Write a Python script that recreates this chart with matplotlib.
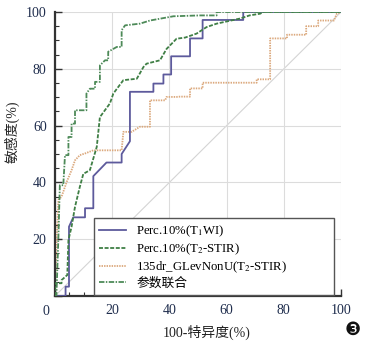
import matplotlib
matplotlib.use("Agg")
from matplotlib import pyplot as plt
from matplotlib.ticker import MultipleLocator

# ROC curves (x = 100-specificity, y = sensitivity), in %
t1_x = [0, 3.7, 3.7, 4.9, 4.9, 6.4, 10.5, 10.5, 13.4, 13.4, 18, 23.3, 23.3, 26.2, 26.2,
        34.4, 34.4, 37.9, 37.9, 40.6, 40.6, 47.2, 47.2, 51.6, 51.6, 65.8, 65.8, 100]
t1_y = [0, 0, 3.3, 3.3, 24.4, 27.7, 27.7, 30.9, 30.9, 42.2, 47, 47, 50, 54.5, 71.9,
        71.9, 74.8, 74.8, 78, 78, 84.4, 84.4, 90.7, 90.7, 97.2, 97.2, 100, 100]

t2_x = [0, 0, 2.3, 2.3, 4.3, 4.7, 5.8, 7, 8.7, 9.9, 12.2, 14.6, 15.7, 19.2, 20.4, 23.9,
        28.6, 30.9, 32, 36.7, 39, 42.5, 45.5, 49.5, 53, 56.5, 64.7, 68, 71.7, 72.8, 100]
t2_y = [0, 4.5, 4.5, 5.6, 7.4, 19.7, 24.4, 31.4, 38.5, 43, 44.3, 52.5, 63, 67.8, 71.3,
        76, 76.5, 80.6, 81.8, 83, 87, 90.6, 91, 92.4, 94.7, 95.9, 97.7, 98.8, 99.4, 100, 100]

glev_x = [0, 0.6, 1.2, 2.3, 2.9, 4.1, 5.8, 7, 8.7, 10.5, 13.4, 23.3, 23.9, 26.8, 29.7,
          33.2, 33.2, 38.5, 39, 42.5, 43.7, 47.2, 47.2, 51.6, 51.6, 70.5, 70.5, 75.2, 75.2,
          81.1, 81.1, 87.8, 87.8, 92, 92, 97.5, 98.5, 100]
glev_y = [0, 20, 33.8, 35, 36.7, 40.2, 44.3, 47.8, 49.6, 50.2, 51.3, 51.3, 57.8, 57.8,
          59.6, 59.6, 68.9, 68.9, 70.1, 70.1, 70.2, 70.2, 73.1, 73.1, 75.1, 75.1, 76.3,
          76.3, 90.7, 90.7, 92, 92, 95, 95, 97, 97, 99.4, 100]

comb_x = [0, 0.5, 1.2, 1.7, 2.9, 3.5, 4.7, 4.7, 5.8, 5.8, 7, 7, 9.3, 11, 11, 12.2, 14,
          14, 15.7, 15.7, 17.5, 18.6, 18.6, 21.6, 23.3, 23.3, 24.5, 29.7, 33.2, 41.4,
          50.7, 56.5, 56.5, 100]
comb_y = [0, 0, 20.9, 39, 39, 49.6, 49.6, 56, 56, 60.7, 60.7, 65.4, 65.4, 65.4, 71.3, 73,
          73, 75.4, 75.4, 81.2, 83, 83, 86, 87.7, 87.7, 93.6, 95.3, 95.9, 97, 98.5, 98.8,
          98.8, 100, 100]

labels = [r"Perc.10%(T$_{1}$WI)", r"Perc.10%(T$_{2}$-STIR)",
          r"135dr_GLevNonU(T$_{2}$-STIR)", "参数联合"]

plt.rcParams['font.family'] = ['Liberation Serif', 'Noto Sans CJK SC', 'DejaVu Sans']
plt.rcParams['mathtext.fontset'] = 'stix'

fig = plt.figure(figsize=(3.74, 3.43), dpi=100)
ax = fig.add_axes([0.147, 0.137, 0.765, 0.828])

ax.plot([0, 100], [0, 100], color="#d4d4d4", lw=0.8, zorder=1)
ax.plot(t1_x, t1_y, color="#5d5a9c", lw=1.3, label=labels[0], zorder=3)
ax.plot(t2_x, t2_y, color="#3f7f45", lw=1.3, ls=(0, (2.2, 0.9)), label=labels[1], zorder=3)
ax.plot(glev_x, glev_y, color="#dba87c", lw=1.3, ls=(0, (0.8, 0.6)), label=labels[2], zorder=2)
ax.plot(comb_x, comb_y, color="#4d8a58", lw=1.3, ls=(0, (3, 0.8, 0.8, 0.8)), label=labels[3], zorder=3)

ax.set_xlim(0, 100)
ax.set_ylim(0, 100)
ax.xaxis.set_major_locator(MultipleLocator(20))
ax.yaxis.set_major_locator(MultipleLocator(20))
ax.xaxis.set_minor_locator(MultipleLocator(5))
ax.yaxis.set_minor_locator(MultipleLocator(5))
ax.grid(True, which='major', color="#dcdcdc", lw=0.8, zorder=0)

for s in ['top', 'right']:
    ax.spines[s].set_visible(False)
for s in ['left', 'bottom']:
    ax.spines[s].set_color("#333333")
    ax.spines[s].set_linewidth(1.6)

tick_col = "#1f2d4d"
ax.tick_params(which='major', direction='in', length=5, width=1, color="#333333",
               labelsize=10, labelcolor=tick_col, pad=6)
ax.tick_params(which='minor', direction='in', length=3, width=0.8, color="#333333")
ax.set_xticks([0, 20, 40, 60, 80, 100])
ax.set_xticklabels(['', '20', '40', '60', '80', '100'])
ax.set_yticks([0, 20, 40, 60, 80, 100])
ax.set_yticklabels(['', '20', '40', '60', '80', '100'])
ax.text(-2, -3, '0', ha='right', va='top', fontsize=10, color=tick_col,
        transform=ax.transData, clip_on=False)

ax.set_xlabel("100-特异度(%)", fontsize=10, color="#222222")
ax.xaxis.set_label_coords(0.53, -0.1)
ax.set_ylabel("敏感度(%)", fontsize=10, color="#222222")
ax.yaxis.set_label_coords(-0.125, 0.58)

leg = ax.legend(loc='lower left', bbox_to_anchor=(0.136, 0.004, 0.84, 0.253), mode='expand',
                borderaxespad=0, fancybox=False, fontsize=9.2, handlelength=2.1,
                labelspacing=0.2, handletextpad=0.8, borderpad=0.4)
leg.get_frame().set_edgecolor("#555555")
leg.get_frame().set_linewidth(1.0)
leg.get_frame().set_alpha(1)

fig.text(0.944, 0.038, "❸", fontsize=13, family=['DejaVu Sans'], ha='center', va='center',
         color="#111111")

fig.savefig("out.png", dpi=100)
